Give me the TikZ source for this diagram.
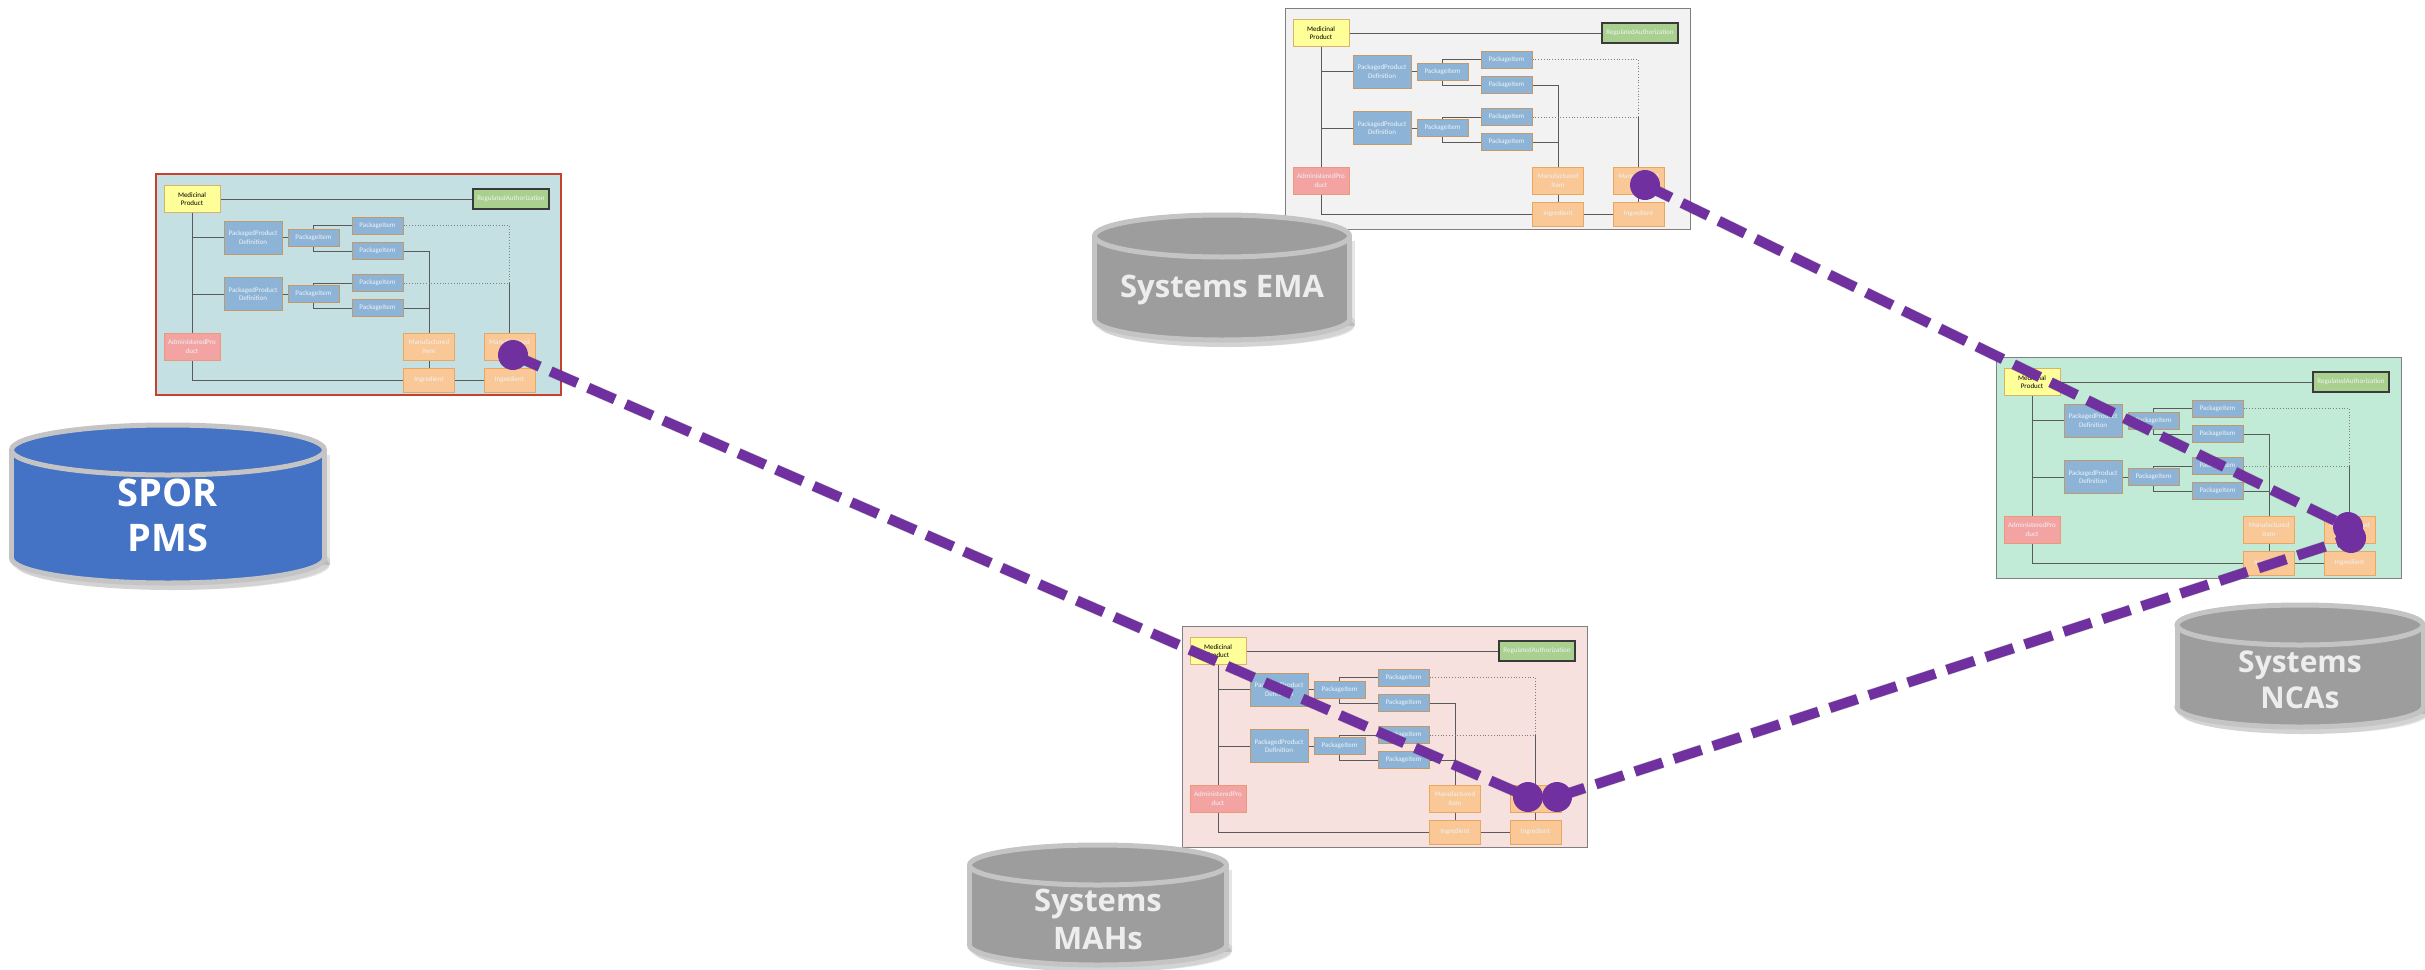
\documentclass[tikz,border=0pt]{standalone}
\usepackage{fontspec}
\setmainfont{Carlito}
\newfontfamily\cylfont{Open Sans}
\usetikzlibrary{calc}
\definecolor{purp}{HTML}{7030A0}
\definecolor{mpY}{HTML}{FFFF99}
\definecolor{mpB}{HTML}{D9B36E}
\definecolor{raG}{HTML}{A9D08E}
\definecolor{raB}{HTML}{3A3A3A}
\definecolor{blu}{HTML}{8DB4D6}
\definecolor{bluB}{HTML}{C09A6A}
\definecolor{pnk}{HTML}{F4A3A3}
\definecolor{pnkB}{HTML}{E89A7A}
\definecolor{org}{HTML}{F9C896}
\definecolor{orgB}{HTML}{E8A860}
\definecolor{lnk}{HTML}{5A5A5A}
\definecolor{lnkD}{HTML}{808080}
\definecolor{txtW}{HTML}{EEF3F8}
\definecolor{sporBg}{HTML}{C5E0E3}
\definecolor{sporRed}{HTML}{C8412F}
\definecolor{emaBg}{HTML}{F2F2F2}
\definecolor{ncaBg}{HTML}{C2EBD7}
\definecolor{mahBg}{HTML}{F7E1DF}
\definecolor{panB}{HTML}{7F7F7F}
\definecolor{cylBlue}{HTML}{4472C4}
\definecolor{cylGray}{HTML}{9D9D9D}
\definecolor{cylB}{HTML}{C4C4C4}
\definecolor{cylTxt}{HTML}{EDEDED}
\tikzset{
  pbox/.style={draw, line width=1pt, inner sep=0pt, align=center, text=txtW,
    font=\fontsize{7}{8.5}\selectfont},
  mpbox/.style={pbox, fill=mpY, draw=mpB, text=black, minimum width=56pt, minimum height=27pt},
  rabox/.style={pbox, fill=raG, draw=raB, line width=1.3pt, minimum width=76pt, minimum height=20pt},
  ppdbox/.style={pbox, fill=blu, draw=bluB, minimum width=58pt, minimum height=33pt},
  pibox/.style={pbox, fill=blu, draw=bluB, minimum width=51pt, minimum height=17pt},
  apbox/.style={pbox, fill=pnk, draw=pnkB, minimum width=56pt, minimum height=27pt},
  mibox/.style={pbox, fill=org, draw=orgB, minimum width=51pt, minimum height=27pt},
  ingbox/.style={pbox, fill=org, draw=orgB, minimum width=51pt, minimum height=24pt},
  link/.style={draw=lnk, line width=0.8pt},
  dlink/.style={draw=lnkD, line width=0.8pt, dotted},
  cylborder/.style={draw=cylB, line width=5pt},
  cyltext/.style={align=center, inner sep=0pt},
  purpline/.style={draw=purp, line width=10pt, dash pattern=on 29pt off 12pt},
  purpshadow/.style={draw=black, opacity=0.22, line width=11pt, dash pattern=on 29pt off 12pt},
  dot/.style={circle, fill=purp, minimum size=30pt, inner sep=0pt},
}
\newcommand\minipanel[5]{%
\begin{scope}[shift={(#2,#3)}]
  \draw[fill=#4,#5] (0,0) rectangle (405,221);
  \node[mpbox] (#1mp) at (36,25) {Medicinal\\Product};
  \node[rabox] (#1ra) at (355,25) {RegulatedAuthorization};
  \node[ppdbox] (#1ppda) at (97,63.5) {PackagedProduct\\Definition};
  \node[pibox] (#1pim) at (157.5,63.5) {PackageItem};
  \node[pibox] (#1pia) at (221.5,51.5) {PackageItem};
  \node[pibox] (#1pib) at (221.5,77) {PackageItem};
  \node[ppdbox] (#1ppdb) at (97,120) {PackagedProduct\\Definition};
  \node[pibox] (#1pin) at (157.5,120) {PackageItem};
  \node[pibox] (#1pic) at (221.5,109) {PackageItem};
  \node[pibox] (#1pid) at (221.5,134) {PackageItem};
  \node[apbox] (#1ap) at (36,172.5) {AdministeredPro\\duct};
  \node[mibox] (#1mia) at (273,172.5) {Manufactured\\Item};
  \node[mibox] (#1mib) at (353.5,172.5) {Manufactured\\Item};
  \node[ingbox] (#1inga) at (273,206) {Ingredient};
  \node[ingbox] (#1ingb) at (353.5,206) {Ingredient};
  \coordinate (#1dc) at (#1mib.north |- #1pic.east);
  \draw[link] (#1mp) -- (#1ra);
  \draw[link] (#1mp) -- (#1ap);
  \draw[link] (#1mp.south |- #1ppda.west) -- (#1ppda.west);
  \draw[link] (#1mp.south |- #1ppdb.west) -- (#1ppdb.west);
  \draw[link] (#1ppda) -- (#1pim);
  \draw[link] (#1ppdb) -- (#1pin);
  \draw[link] (#1pim.north) |- (#1pia.west);
  \draw[link] (#1pim.south) |- (#1pib.west);
  \draw[link] (#1pin.north) |- (#1pic.west);
  \draw[link] (#1pin.south) |- (#1pid.west);
  \draw[link] (#1pib.east) -| (#1mia.north);
  \draw[link] (#1pid.east) -- (#1pid.east -| #1mia.north);
  \draw[link] (#1mia) -- (#1inga);
  \draw[link] (#1ap.south) |- (#1inga.west);
  \draw[link] (#1inga) -- (#1ingb);
  \draw[link] (#1mib) -- (#1ingb);
  \draw[dlink] (#1pia.east) -| (#1dc) -- (#1pic.east);
  \draw[link] (#1dc) -- (#1mib.north);
\end{scope}}
% cx, ytop, W, H, ry, fill
\newcommand\dbcyl[6]{%
  \pgfmathsetmacro\cylrx{#3/2}%
  \pgfmathsetmacro\cylyt{#2+#5}%
  \pgfmathsetmacro\cylyb{#2+#4-#5}%
  \fill[black,opacity=0.10] (#1+5,\cylyt+5) rectangle (#1+\cylrx+5,\cylyb+7);
  \fill[black,opacity=0.10] (#1+5,\cylyb+7) ellipse ({\cylrx} and {#5});
  \fill[black,opacity=0.08] (#1+3,\cylyb+4) ellipse ({\cylrx+3} and {#5+3});
  \filldraw[fill=#6, cylborder] (#1,\cylyb) ellipse ({\cylrx} and {#5});
  \fill[#6] (#1-\cylrx,\cylyt) rectangle (#1+\cylrx,\cylyb);
  \draw[cylborder] (#1-\cylrx,\cylyt) -- (#1-\cylrx,\cylyb);
  \draw[cylborder] (#1+\cylrx,\cylyt) -- (#1+\cylrx,\cylyb);
  \filldraw[fill=#6, cylborder] (#1,\cylyt) ellipse ({\cylrx} and {#5});
}
\begin{document}
\begin{tikzpicture}[x=1pt,y=-1pt]
\useasboundingbox (0,0) rectangle (2425,969);
\fill[white] (0,0) rectangle (2425,969);

% panels
\minipanel{spor}{156}{174}{sporBg}{draw=sporRed, line width=2.5pt}
\minipanel{ema}{1285}{8}{emaBg}{draw=panB, line width=1pt}
\minipanel{nca}{1996}{357}{ncaBg}{draw=panB, line width=1pt}
\minipanel{mah}{1182}{626}{mahBg}{draw=panB, line width=1pt}

% cylinders
\dbcyl{168}{425}{313}{158}{25}{cylBlue}
\node[cyltext, text=white, font=\cylfont\bfseries\fontsize{38}{45}\selectfont] (spor) at (168,515) {SPOR\\PMS};
\dbcyl{1222}{215}{255}{125}{21}{cylGray}
\node[cyltext, text=cylTxt, font=\cylfont\bfseries\fontsize{31}{38}\selectfont] (ema) at (1222,290) {Systems EMA};
\dbcyl{2300}{605}{246}{122}{20}{cylGray}
\node[cyltext, text=cylTxt, font=\cylfont\bfseries\fontsize{30}{36}\selectfont] (nca) at (2300,680) {Systems\\NCAs};
\dbcyl{1098}{845}{257}{120}{20}{cylGray}
\node[cyltext, text=cylTxt, font=\cylfont\bfseries\fontsize{31}{38}\selectfont] (mah) at (1098,919) {Systems\\MAHs};

% purple connections
\coordinate (p1) at (513,355);
\coordinate (p2) at (1528,797);
\coordinate (p3) at (1557,797);
\coordinate (p4) at (1645,185);
\coordinate (p5) at (2348,527);
\coordinate (p6) at (2351,538);
\begin{scope}[shift={(2,4)}]
  \draw[purpshadow] (p1) -- (p2);
  \draw[purpshadow] (p3) -- (p6);
  \draw[purpshadow] (p4) -- (p5);
\end{scope}
\draw[purpline] (p1) -- (p2);
\draw[purpline] (p3) -- (p6);
\draw[purpline] (p4) -- (p5);
\node[dot] (c1) at (p1) {};
\node[dot] (c2) at (p2) {};
\node[dot] (c3) at (p3) {};
\node[dot] (c4) at (p4) {};
\node[dot] (c6) at (p6) {};
\node[dot] (c5) at (p5) {};
\end{tikzpicture}
\end{document}
